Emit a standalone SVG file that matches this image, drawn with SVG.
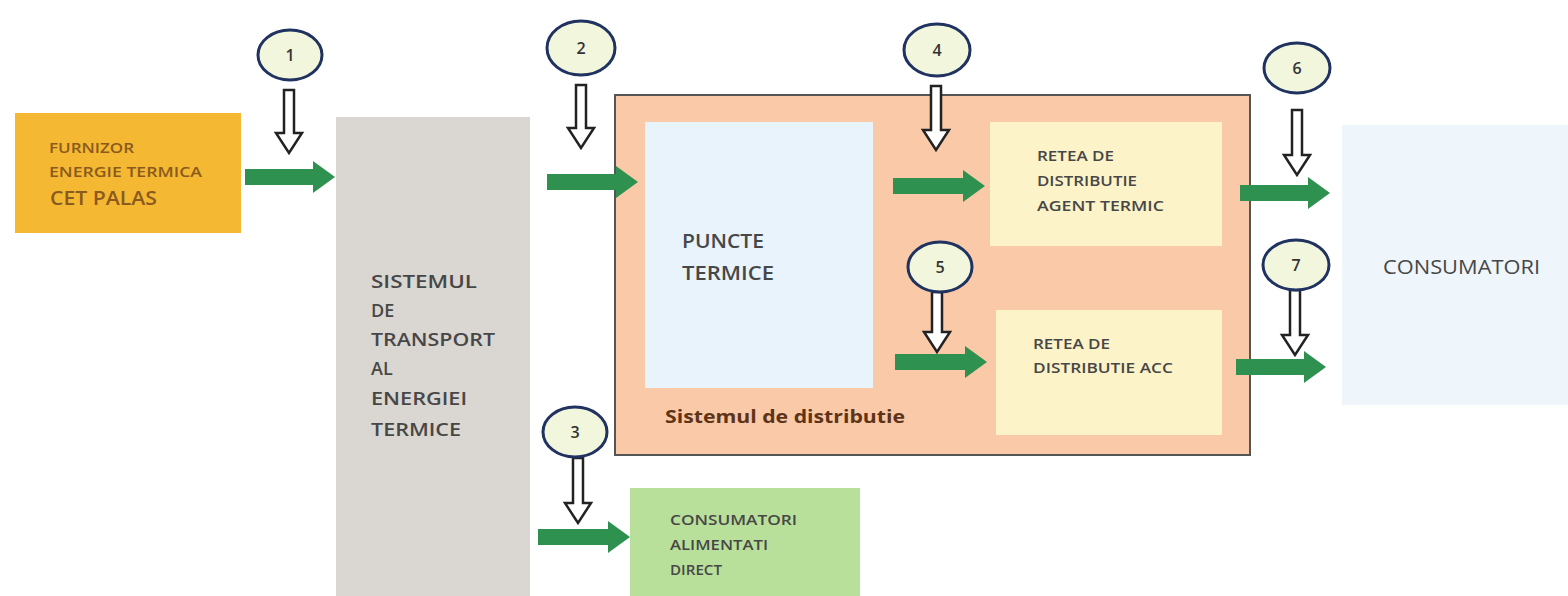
<svg xmlns="http://www.w3.org/2000/svg" width="1568" height="596" viewBox="0 0 1568 596">
<style>
text{font-family:"Open Sans","Liberation Sans",sans-serif;fill:#474747;font-weight:600}
.num{font-size:16px;text-anchor:middle;fill:#333}
.badge{fill:#f1f6dc;stroke:#1f3260;stroke-width:3}
.hollow{fill:#fff;stroke:#222;stroke-width:2.5;stroke-linejoin:miter}
.green{fill:#2f9150}
.small{font-size:14px}
.brown{fill:#8a5a1e}
</style>
<rect width="1568" height="596" fill="#fff"/>
<g id="furnizor">
<rect x="15" y="113" width="226" height="120" fill="#f5b832"/>
<text x="49" y="153" class="small brown" textLength="85" lengthAdjust="spacingAndGlyphs">FURNIZOR</text>
<text x="49" y="177" class="small brown" textLength="153" lengthAdjust="spacingAndGlyphs">ENERGIE TERMICA</text>
<text x="50" y="205" font-size="19" class="brown" textLength="107" lengthAdjust="spacingAndGlyphs">CET PALAS</text>
</g>
<g id="transport">
<rect x="336" y="117" width="194" height="479" fill="#dad6d2"/>
<text font-size="18">
<tspan x="371" y="288" textLength="106" lengthAdjust="spacingAndGlyphs">SISTEMUL</tspan>
<tspan x="371" y="317">DE</tspan>
<tspan x="371" y="346" textLength="124" lengthAdjust="spacingAndGlyphs">TRANSPORT</tspan>
<tspan x="371" y="375">AL</tspan>
<tspan x="371" y="405" textLength="96" lengthAdjust="spacingAndGlyphs">ENERGIEI</tspan>
<tspan x="371" y="436" textLength="90" lengthAdjust="spacingAndGlyphs">TERMICE</tspan>
</text>
</g>
<g id="distributie">
<rect x="615" y="95" width="635" height="360" fill="#f9c9a8" stroke="#555" stroke-width="2"/>
<text x="665" y="423" font-size="18" style="fill:#5e3418;font-weight:700" textLength="240" lengthAdjust="spacingAndGlyphs">Sistemul de distributie</text>
</g>
<g id="puncte">
<rect x="645" y="122" width="228" height="266" fill="#e9f3fb"/>
<text font-size="20">
<tspan x="682" y="248" textLength="82" lengthAdjust="spacingAndGlyphs">PUNCTE</tspan>
<tspan x="682" y="280" textLength="92" lengthAdjust="spacingAndGlyphs">TERMICE</tspan>
</text>
</g>
<g id="retea-agent">
<rect x="990" y="122" width="232" height="124" fill="#fdf3c9"/>
<text class="small">
<tspan x="1037" y="161" textLength="77" lengthAdjust="spacingAndGlyphs">RETEA DE</tspan>
<tspan x="1037" y="186" textLength="100" lengthAdjust="spacingAndGlyphs">DISTRIBUTIE</tspan>
<tspan x="1037" y="211" textLength="127" lengthAdjust="spacingAndGlyphs">AGENT TERMIC</tspan>
</text>
</g>
<g id="retea-acc">
<rect x="996" y="310" width="226" height="125" fill="#fdf3c9"/>
<text class="small">
<tspan x="1033" y="349" textLength="77" lengthAdjust="spacingAndGlyphs">RETEA DE</tspan>
<tspan x="1033" y="373" textLength="140" lengthAdjust="spacingAndGlyphs">DISTRIBUTIE ACC</tspan>
</text>
</g>
<g id="consumatori">
<rect x="1342" y="125" width="226" height="280" fill="#eef6fb"/>
<text x="1383" y="274" font-size="20" style="font-weight:400" textLength="157" lengthAdjust="spacingAndGlyphs">CONSUMATORI</text>
</g>
<g id="consumatori-direct">
<rect x="630" y="488" width="230" height="108" fill="#b9e09b"/>
<text class="small">
<tspan x="670" y="525" textLength="127" lengthAdjust="spacingAndGlyphs">CONSUMATORI</tspan>
<tspan x="670" y="550" textLength="98" lengthAdjust="spacingAndGlyphs">ALIMENTATI</tspan>
<tspan x="670" y="575" textLength="52" lengthAdjust="spacingAndGlyphs">DIRECT</tspan>
</text>
</g>
<g id="connectors">
<path class="green" d="M245,169 H313 V161 L335,177 L313,193 V185 H245 Z"/>
<path class="green" d="M547,174 H616 V166 L638,182 L616,198 V190 H547 Z"/>
<path class="green" d="M893,178 H963 V170 L985,186 L963,202 V194 H893 Z"/>
<path class="green" d="M1240,185 H1308 V177 L1330,193 L1308,209 V201 H1240 Z"/>
<path class="green" d="M895,354 H965 V346 L987,362 L965,378 V370 H895 Z"/>
<path class="green" d="M1236,359 H1304 V351 L1326,367 L1304,383 V375 H1236 Z"/>
<path class="green" d="M538,529 H608 V521 L630,537 L608,553 V545 H538 Z"/>
<path class="hollow" d="M284,90 H294 V133 H302 L289,153 L276,133 H284 Z"/>
<path class="hollow" d="M576,85 H586 V128 H594 L581,148 L568,128 H576 Z"/>
<path class="hollow" d="M931,86 H941 V130 H949 L936,150 L923,130 H931 Z"/>
<path class="hollow" d="M1292,110 H1302 V155 H1310 L1297,175 L1284,155 H1292 Z"/>
<path class="hollow" d="M932,292 H942 V332 H950 L937,352 L924,332 H932 Z"/>
<path class="hollow" d="M1290,290 H1300 V335 H1308 L1295,355 L1282,335 H1290 Z"/>
<path class="hollow" d="M573,458 H583 V503 H591 L578,523 L565,503 H573 Z"/>
</g>
<g id="badge-1"><ellipse class="badge" cx="290" cy="55" rx="32" ry="25"/><text class="num" x="290" y="61">1</text></g>
<g id="badge-2"><ellipse class="badge" cx="581" cy="48" rx="34" ry="27"/><text class="num" x="581" y="54">2</text></g>
<g id="badge-4"><ellipse class="badge" cx="937" cy="50" rx="33" ry="26"/><text class="num" x="937" y="56">4</text></g>
<g id="badge-6"><ellipse class="badge" cx="1297" cy="68" rx="33" ry="25"/><text class="num" x="1297" y="74">6</text></g>
<g id="badge-5"><ellipse class="badge" cx="940" cy="267" rx="32" ry="25"/><text class="num" x="940" y="273">5</text></g>
<g id="badge-7"><ellipse class="badge" cx="1296" cy="265" rx="33" ry="25"/><text class="num" x="1296" y="271">7</text></g>
<g id="badge-3"><ellipse class="badge" cx="575" cy="432" rx="32" ry="25"/><text class="num" x="575" y="438">3</text></g>
</svg>
